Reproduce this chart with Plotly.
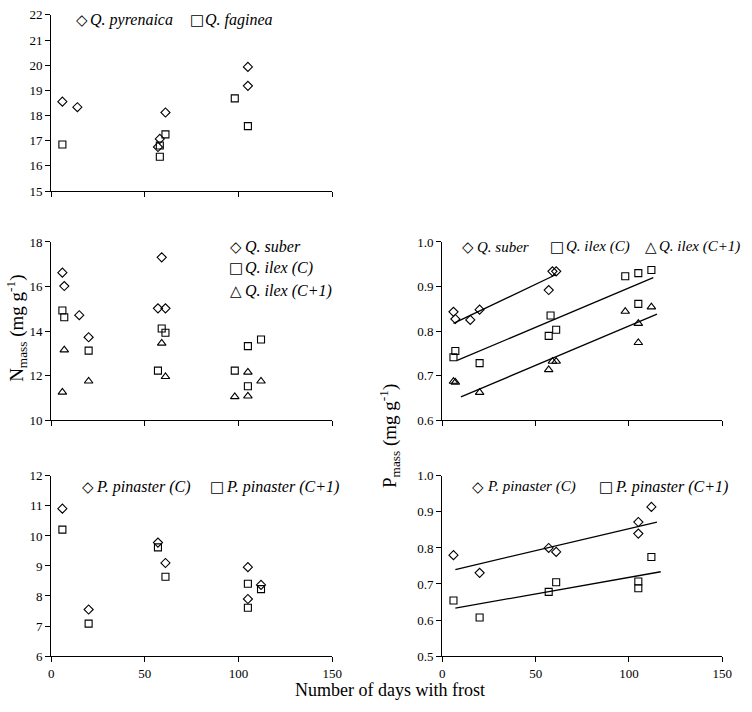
import plotly.graph_objects as go

W, H = 752, 712

# ---------------- data ----------------
# Top-left panel: N mass (mg g-1)
pyr_days = [6, 14, 57, 58, 61, 105, 105]
pyr_n = [18.55, 18.33, 16.75, 17.07, 18.12, 19.93, 19.18]
fag_days = [6, 58, 58, 61, 98, 105]
fag_n = [16.85, 16.36, 16.81, 17.25, 18.68, 17.58]

# Middle-left panel: N mass
sub_days = [6, 7, 15, 20, 57, 59, 61]
sub_n = [16.62, 16.02, 14.71, 13.72, 15.02, 17.31, 15.02]
ilc_days = [6, 7, 20, 57, 59, 61, 98, 105, 105, 112]
ilc_n = [14.92, 14.62, 13.12, 12.22, 14.11, 13.92, 12.22, 13.32, 11.52, 13.62]
il1_days = [6, 7, 20, 59, 61, 98, 105, 105, 112]
il1_n = [11.25, 13.15, 11.75, 13.45, 11.95, 11.05, 12.15, 11.08, 11.75]

# Middle-right panel: P mass
sub_p_days = [6, 7, 15, 20, 57, 59, 61]
sub_p = [0.843, 0.827, 0.825, 0.848, 0.892, 0.934, 0.934]
ilc_p_days = [6, 7, 20, 57, 58, 61, 98, 105, 105, 112]
ilc_p = [0.741, 0.755, 0.728, 0.789, 0.835, 0.803, 0.923, 0.930, 0.861, 0.937]
il1_p_days = [6, 7, 20, 57, 59, 61, 98, 105, 105, 112]
il1_p = [0.687, 0.685, 0.662, 0.713, 0.732, 0.732, 0.844, 0.817, 0.774, 0.854]
# fitted regression lines (end points)
sub_fit_days = [6, 61]
sub_fit_p = [0.817, 0.927]
ilc_fit_days = [8, 113]
ilc_fit_p = [0.734, 0.920]
il1_fit_days = [10, 115]
il1_fit_p = [0.652, 0.838]

# Bottom-left panel: N mass
pin_days = [6, 20, 57, 61, 105, 105, 112]
pinc_n = [10.91, 7.55, 9.78, 9.10, 8.96, 7.90, 8.37]
pin1_n = [10.21, 7.08, 9.62, 8.64, 8.41, 7.61, 8.23]

# Bottom-right panel: P mass
pinc_p = [0.780, 0.731, 0.800, 0.789, 0.872, 0.840, 0.914]
pin1_p = [0.654, 0.607, 0.678, 0.705, 0.707, 0.688, 0.775]
pinc_fit_days = [7, 115]
pinc_fit_p = [0.740, 0.872]
pin1_fit_days = [7, 117]
pin1_fit_p = [0.633, 0.734]

x_ticks = [0, 50, 100, 150]

# ---------------- figure ----------------
FONT = "Liberation Serif, Times New Roman, serif"


def px_x(p):
    return p / W


def px_y(p):
    return 1 - p / H


fig = go.Figure()


def pts(x, y, sym, n, size):
    fig.add_trace(go.Scatter(
        x=x, y=y, mode="markers", showlegend=False, cliponaxis=False,
        xaxis="x" + n, yaxis="y" + n,
        marker=dict(symbol=sym + "-open", size=size, color="black",
                    line=dict(width=1.1, color="black"))))


def fit(x, y, n):
    fig.add_trace(go.Scatter(
        x=x, y=y, mode="lines", showlegend=False,
        xaxis="x" + n, yaxis="y" + n,
        line=dict(color="black", width=1.3)))


DS, SS, TS = 7, 7, 7.5

# panel 1 (top-left)
pts(pyr_days, pyr_n, "diamond", "", DS)
pts(fag_days, fag_n, "square", "", SS)
# panel 3 (middle-left)
pts(sub_days, sub_n, "diamond", "3", DS)
pts(ilc_days, ilc_n, "square", "3", SS)
pts(il1_days, il1_n, "triangle-up", "3", TS)
# panel 4 (middle-right)
fit(sub_fit_days, sub_fit_p, "4")
fit(ilc_fit_days, ilc_fit_p, "4")
fit(il1_fit_days, il1_fit_p, "4")
pts(sub_p_days, sub_p, "diamond", "4", DS)
pts(ilc_p_days, ilc_p, "square", "4", SS)
pts(il1_p_days, il1_p, "triangle-up", "4", TS)
# panel 5 (bottom-left)
pts(pin_days, pinc_n, "diamond", "5", DS)
pts(pin_days, pin1_n, "square", "5", SS)
# panel 6 (bottom-right)
fit(pinc_fit_days, pinc_fit_p, "6")
fit(pin1_fit_days, pin1_fit_p, "6")
pts(pin_days, pinc_p, "diamond", "6", DS)
pts(pin_days, pin1_p, "square", "6", SS)

axis_common = dict(
    showline=True, linecolor="black", linewidth=1.2,
    ticks="outside", ticklen=5, tickcolor="black", tickwidth=1.2,
    showgrid=False, zeroline=False, fixedrange=True,
    tickfont=dict(family=FONT, size=13, color="black"))

left_dom = [px_x(49), px_x(335)]
right_dom = [px_x(447), px_x(732)]
top_dom = [px_y(188), px_y(8)]
mid_dom = [px_y(422), px_y(240)]
bot_dom = [px_y(663), px_y(479)]


def xax(dom, anchor, labels):
    d = dict(axis_common)
    d.update(domain=dom, anchor=anchor, range=[0, 150], tickvals=x_ticks,
             showticklabels=labels)
    return d


def yax(dom, anchor, rng, dtick, fmt=None):
    d = dict(axis_common)
    d.update(domain=dom, anchor=anchor, range=rng, dtick=dtick, tick0=rng[0])
    if fmt:
        d["tickformat"] = fmt
    return d


fig.update_layout(
    width=W, height=H,
    margin=dict(l=0, r=0, t=0, b=0),
    paper_bgcolor="white", plot_bgcolor="white",
    showlegend=False,
    xaxis=xax(left_dom, "y", False),
    yaxis=yax(top_dom, "x", [15, 22], 1),
    xaxis2=dict(domain=right_dom, anchor="y2", visible=False),
    yaxis2=dict(domain=top_dom, anchor="x2", visible=False),
    xaxis3=xax(left_dom, "y3", False),
    yaxis3=yax(mid_dom, "x3", [10, 18], 2),
    xaxis4=xax(right_dom, "y4", False),
    yaxis4=yax(mid_dom, "x4", [0.6, 1.0], 0.1, ".1f"),
    xaxis5=xax(left_dom, "y5", True),
    yaxis5=yax(bot_dom, "x5", [6, 12], 1),
    xaxis6=xax(right_dom, "y6", True),
    yaxis6=yax(bot_dom, "x6", [0.5, 1.0], 0.1, ".1f"),
)

annotations = []


def ann(text, x, y, size, xanchor="center", yanchor="middle", angle=0, family=FONT):
    annotations.append(dict(
        text=text, x=px_x(x), y=px_y(y), xref="paper", yref="paper",
        xanchor=xanchor, yanchor=yanchor, showarrow=False, textangle=angle,
        font=dict(family=family, size=size, color="black")))


GLYPH = {"diamond": "\u25C7", "square": "\u25A1", "triangle": "\u25B3"}


def legend_item(sym, cx, cy, label, size):
    ann(GLYPH[sym], cx, cy, 15, family="DejaVu Sans")
    ann("<i>" + label + "</i>", cx + 7, cy, size, xanchor="left")


# legends
legend_item("diamond", 80, 13.5, "Q. pyrenaica", 16)
legend_item("square", 197, 13.5, "Q. faginea", 16)

legend_item("diamond", 237, 245, "Q. suber", 16)
legend_item("square", 237, 267, "Q. ilex (C)", 16)
legend_item("triangle", 237, 290, "Q. ilex (C+1)", 16)

legend_item("diamond", 473, 245, "Q. suber", 15)
legend_item("square", 564, 245, "Q. ilex (C)", 15)
legend_item("triangle", 659, 245, "Q. ilex (C+1)", 15)

legend_item("diamond", 86, 490, "P. pinaster (C)", 16)
legend_item("square", 218, 490, "P. pinaster (C+1)", 16)

legend_item("diamond", 483, 490, "P. pinaster (C)", 15)
legend_item("square", 614, 490, "P. pinaster (C+1)", 16)

# axis titles
ann("Number of days with frost", 394, 698, 18)
ann("N<sub>mass</sub> (mg g<sup>-1</sup>)", 13, 328, 19, angle=-90)
ann("P<sub>mass</sub> (mg g<sup>-1</sup>)", 394, 438, 19, angle=-90)

fig.update_layout(annotations=annotations)

fig.write_html(
    "out.html",
    config={"displayModeBar": False},
    post_script="document.body.style.margin='0';document.body.style.overflow='hidden';",
)
